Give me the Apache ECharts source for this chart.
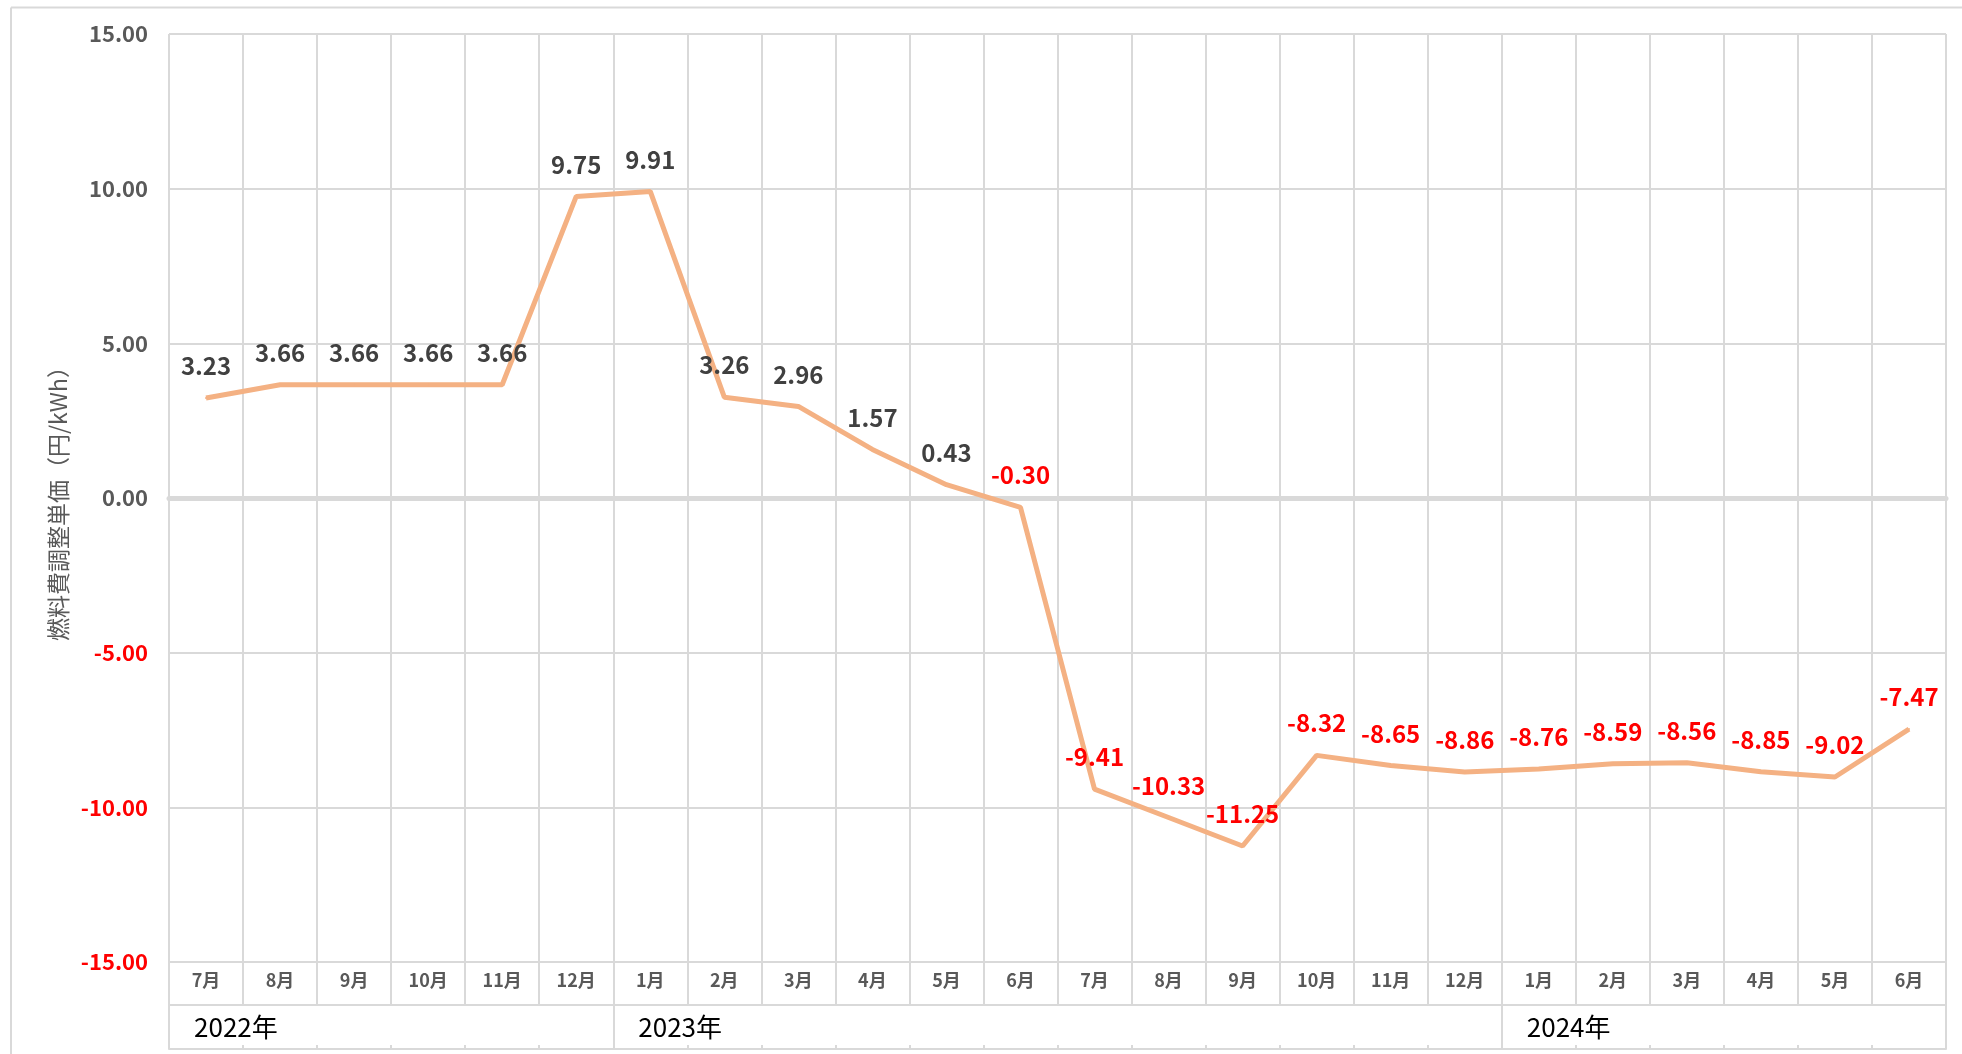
<!DOCTYPE html>
<html><head><meta charset="utf-8">
<script src="https://cdn.jsdelivr.net/npm/echarts@6/dist/echarts.min.js"></script>
<style>html,body{margin:0;padding:0;background:#fff}#c{width:1962px;height:1054px}</style>
</head><body><div id="c"></div>
<script>
const months = ['7月','8月','9月','10月','11月','12月','1月','2月','3月','4月','5月','6月','7月','8月','9月','10月','11月','12月','1月','2月','3月','4月','5月','6月'];
const yearLabels = ['2022年','','','','','','2023年','','','','','','','','','','','','2024年','','','','',''];
const yearStartIndex = [0, 6, 18];
const values = [3.23,3.66,3.66,3.66,3.66,9.75,9.91,3.26,2.96,1.57,0.43,-0.30,-9.41,-10.33,-11.25,-8.32,-8.65,-8.86,-8.76,-8.59,-8.56,-8.85,-9.02,-7.47];
const yMin = -15, yMax = 15, yStep = 5;
const yTitle = '燃料費調整単価（円/kWh）';

const FONT = "'Noto Sans CJK JP','Noto Sans',sans-serif";
const GRID = '#D9D9D9';

const chart = echarts.init(document.getElementById('c'));
chart.setOption({
  animation: false,
  backgroundColor: '#fff',
  textStyle: { fontFamily: FONT },
  grid: { left: 169, right: 16, top: 34, bottom: 92, containLabel: false },
  graphic: [
    { type: 'line', shape: { x1: 11, y1: 7.5, x2: 1962, y2: 7.5 }, style: { stroke: GRID, lineWidth: 2 } },
    { type: 'line', shape: { x1: 11, y1: 7.5, x2: 11, y2: 1054 }, style: { stroke: GRID, lineWidth: 2 } }
  ],
  xAxis: [
    {
      type: 'category', data: months, position: 'bottom', boundaryGap: true,
      axisLine: { show: false, onZero: false },
      axisTick: { show: true, interval: 0, length: 43, lineStyle: { color: GRID, width: 2 } },
      splitLine: { show: true, interval: 0, lineStyle: { color: GRID, width: 2 } },
      axisLabel: { interval: 0, margin: 9, fontSize: 18, fontWeight: 'bold', color: '#595959', fontFamily: FONT }
    },
    {
      type: 'category', data: yearLabels, position: 'bottom', offset: 43, boundaryGap: true,
      axisLine: { show: true, onZero: false, lineStyle: { color: GRID, width: 2 } },
      axisTick: { show: true, interval: (i) => yearStartIndex.includes(i), length: 44, lineStyle: { color: GRID, width: 2 } },
      splitLine: { show: false },
      axisLabel: { interval: 0, align: 'left', margin: 9, padding: [0, 0, 0, -12], fontSize: 26, color: '#000', fontFamily: FONT }
    },
    {
      type: 'category', data: months, position: 'bottom', offset: 87, boundaryGap: true,
      axisLine: { show: true, onZero: false, lineStyle: { color: GRID, width: 2 } },
      axisTick: { show: true, interval: 0, inside: true, length: 4, lineStyle: { color: GRID, width: 2 } },
      splitLine: { show: false },
      axisLabel: { show: false }
    },
    {
      type: 'category', data: months, position: 'bottom', boundaryGap: true,
      axisLine: { show: true, onZero: true, onZeroAxisIndex: 0, lineStyle: { color: GRID, width: 5 } },
      axisTick: { show: false }, splitLine: { show: false }, axisLabel: { show: false }
    }
  ],
  yAxis: {
    type: 'value', min: yMin, max: yMax, interval: yStep,
    name: yTitle, nameLocation: 'middle', nameRotate: 90, nameGap: 98,
    nameTextStyle: { fontSize: 23, color: '#595959', fontFamily: FONT },
    axisLine: { show: false }, axisTick: { show: false },
    splitLine: { show: true, lineStyle: { color: GRID, width: 2 } },
    axisLabel: {
      margin: 21, fontSize: 22, fontWeight: 'bold', fontFamily: FONT,
      formatter: (v) => Number(v).toFixed(2),
      color: (v) => (parseFloat(v) < 0 ? '#FF0000' : '#595959')
    }
  },
  series: [{
    type: 'line', data: values, xAxisIndex: 0, yAxisIndex: 0,
    symbol: 'circle', symbolSize: 2, showSymbol: true,
    itemStyle: { color: '#F4B183' },
    lineStyle: { color: '#F4B183', width: 5 },
    z: 5,
    label: {
      show: true, position: 'top', distance: 19,
      formatter: (p) => (p.value < 0 ? '{n|' : '{p|') + p.value.toFixed(2) + '}',
      rich: {
        p: { color: '#404040', fontWeight: 'bold', fontSize: 24, fontFamily: FONT },
        n: { color: '#FF0000', fontWeight: 'bold', fontSize: 24, fontFamily: FONT }
      }
    }
  }]
});
</script></body></html>
